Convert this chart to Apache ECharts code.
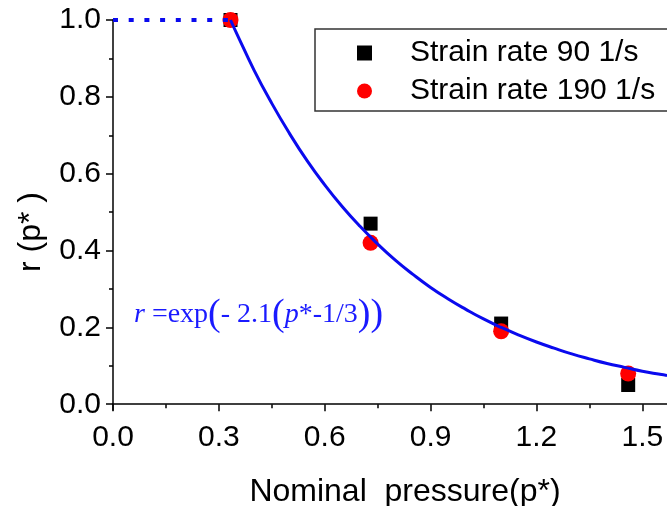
<!DOCTYPE html>
<html>
<head>
<meta charset="utf-8">
<script src="https://cdn.jsdelivr.net/npm/echarts@6/dist/echarts.min.js"></script>
<style>html,body{margin:0;padding:0;background:#fff}#c{width:667px;height:506px}</style>
</head>
<body>
<div id="c"></div>
<script>
// Measured points
const pressure = [0.333, 0.73, 1.10, 1.46];
const r90 = [1.0, 0.47, 0.21, 0.05];
const r190 = [1.0, 0.42, 0.19, 0.08];
// Fitted curve
const fitP = [0.333, 0.35, 0.40, 0.45, 0.50, 0.55, 0.60, 0.65, 0.70, 0.75, 0.80, 0.85, 0.90, 0.95, 1.00, 1.05, 1.10, 1.15, 1.20, 1.25, 1.30, 1.35, 1.40, 1.45, 1.50, 1.55, 1.57];
const fitR = [1.000, 0.966, 0.869, 0.783, 0.705, 0.634, 0.571, 0.514, 0.463, 0.417, 0.375, 0.338, 0.304, 0.274, 0.247, 0.222, 0.200, 0.180, 0.162, 0.146, 0.131, 0.118, 0.106, 0.096, 0.086, 0.078, 0.075];
// Dotted plateau
const plateauP = [0, 0.333];
const plateauR = [1.0, 1.0];
// Ticks
const xTicks = [0, 0.3, 0.6, 0.9, 1.2, 1.5];
const xMinor = [0.15, 0.45, 0.75, 1.05, 1.35];
const yTicks = [0, 0.2, 0.4, 0.6, 0.8, 1.0];
const yMinor = [0.1, 0.3, 0.5, 0.7, 0.9];

const zip = (a, b) => a.map((v, i) => [v, b[i]]);
const axisCol = '#000';
const chart = echarts.init(document.getElementById('c'));
chart.setOption({
  animation: false,
  backgroundColor: '#fff',
  grid: {left: 113, right: 0, top: 20, bottom: 96, containLabel: false, outerBoundsMode: 'none'},
  xAxis: [{
    type: 'value', min: 0, max: 1.57,
    name: 'Nominal  pressure(p*)', nameLocation: 'middle', nameGap: 66,
    nameTextStyle: {fontFamily: 'Liberation Sans', fontSize: 32, color: '#000', padding: [0, 0, 0, 30]},
    axisLine: {show: true, lineStyle: {color: axisCol, width: 1.5}},
    axisTick: {show: true, customValues: xTicks, length: 7, inside: false, lineStyle: {color: axisCol, width: 1.5}},
    axisLabel: {customValues: xTicks, margin: 13, fontFamily: 'Liberation Sans', fontSize: 30, color: '#000',
      formatter: v => v.toFixed(1), showMaxLabel: true},
    splitLine: {show: false}
  }, {
    type: 'value', min: 0, max: 1.57, position: 'bottom',
    axisLine: {show: false},
    axisTick: {show: true, customValues: xMinor, length: 4, lineStyle: {color: axisCol, width: 1.5}},
    axisLabel: {show: false}, splitLine: {show: false}
  }],
  yAxis: [{
    type: 'value', min: -0.015, max: 1.0,
    name: 'r (p* )', nameLocation: 'middle', nameGap: 66,
    nameTextStyle: {fontFamily: 'Liberation Sans', fontSize: 32, color: '#000', padding: [0, 34, 0, 0]},
    axisLine: {show: true, lineStyle: {color: axisCol, width: 1.5}},
    axisTick: {show: true, customValues: yTicks, length: 7, lineStyle: {color: axisCol, width: 1.5}},
    axisLabel: {customValues: yTicks, margin: 12, fontFamily: 'Liberation Sans', fontSize: 30, color: '#000',
      formatter: v => v.toFixed(1)},
    splitLine: {show: false}
  }, {
    type: 'value', min: -0.015, max: 1.0, position: 'left',
    axisLine: {show: false},
    axisTick: {show: true, customValues: yMinor, length: 4, lineStyle: {color: axisCol, width: 1.5}},
    axisLabel: {show: false}, splitLine: {show: false}
  }],
  legend: {
    orient: 'vertical', left: 315, top: 29,
    padding: [9, 30, 5, 42],
    itemWidth: 15, itemHeight: 15, itemGap: 8,
    borderColor: '#333', borderWidth: 1.5, backgroundColor: '#fff',
    textStyle: {fontFamily: 'Liberation Sans', fontSize: 30, color: '#000', padding: [0, 0, 0, 33]},
    data: [{name: 'Strain rate 90 1/s', icon: 'rect', itemStyle: {opacity: 1}},
           {name: 'Strain rate 190 1/s', icon: 'circle', itemStyle: {opacity: 1}}]
  },
  graphic: [{
    type: 'text', left: 134, top: 296, z: 100,
    style: {
      rich: {
        it: {fontFamily: 'Liberation Serif', fontStyle: 'italic', fontSize: 28, fill: '#1a1aff'},
        n: {fontFamily: 'Liberation Serif', fontSize: 28, fill: '#1a1aff'},
        par: {fontFamily: 'Liberation Serif', fontSize: 38, fill: '#1a1aff'}
      },
      text: '{it|r }{n|=exp}{par|(}{n|- 2.1}{par|(}{it|p}{n|*-1/3}{par|))}'
    }
  }],
  series: [{
    name: 'Strain rate 90 1/s', type: 'scatter', symbol: 'rect', symbolSize: 14,
    itemStyle: {color: '#000', opacity: 1}, data: zip(pressure, r90), z: 2
  }, {
    name: 'Strain rate 190 1/s', type: 'scatter', symbol: 'circle', symbolSize: 16,
    itemStyle: {color: '#ff0000', opacity: 1}, data: zip(pressure, r190), z: 3
  }, {
    name: 'fit', type: 'line', smooth: true, showSymbol: false, clip: false,
    lineStyle: {color: '#0a0aee', width: 3}, data: zip(fitP, fitR), z: 4
  }, {
    name: 'plateau', type: 'line', showSymbol: false, clip: false,
    lineStyle: {color: '#0a0aee', width: 4, type: [5, 10.7]}, data: zip(plateauP, plateauR), z: 4
  }]
});
</script>
</body>
</html>
